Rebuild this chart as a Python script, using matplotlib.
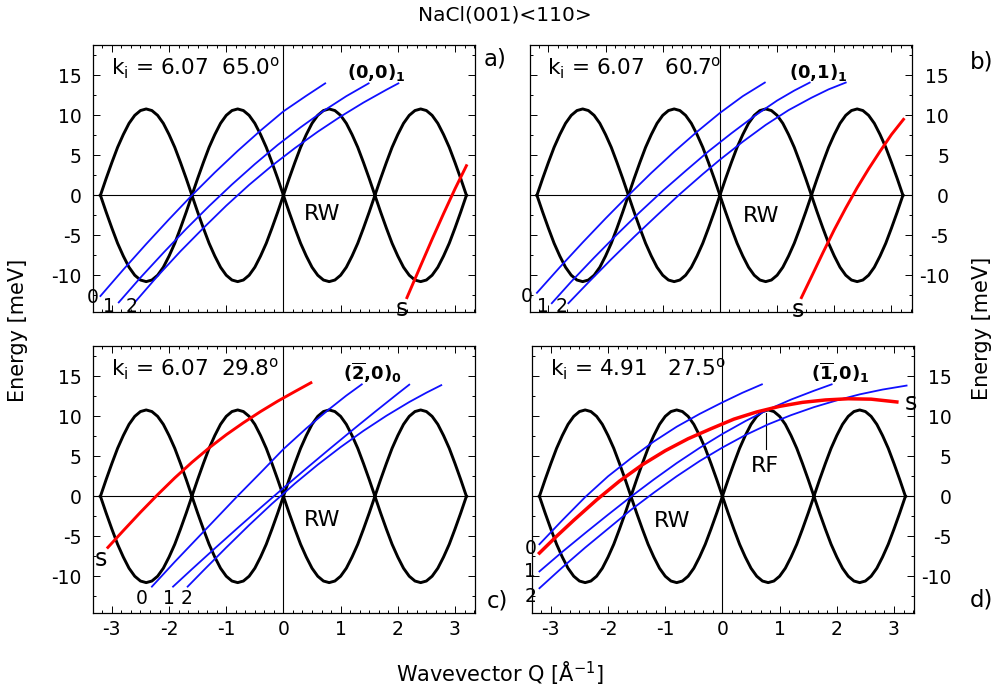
import numpy as np
import matplotlib
matplotlib.use("Agg")
import matplotlib.pyplot as plt
from matplotlib.ticker import MultipleLocator

plt.rcParams["font.family"] = ["DejaVu Sans"]
plt.rcParams["axes.unicode_minus"] = False
plt.rcParams["mathtext.default"] = "regular"

# Rayleigh wave branch: one arch, repeated over 4 zones
rw_q = [0.0, 0.1, 0.2, 0.3, 0.4, 0.5, 0.6, 0.7, 0.8, 0.9, 1.0, 1.1, 1.2, 1.3, 1.4, 1.5, 1.6]
rw_e = [0.0, 2.1, 4.1, 6.0, 7.6, 9.0, 10.0, 10.6, 10.8, 10.6, 10.0, 9.0, 7.6, 6.0, 4.1, 2.1, 0.0]
rw_starts = [-3.2, -1.6, 0.0, 1.6]

# panel a) (0,0)1
a_s0_q = [-3.2, -2.8, -2.4, -2.0, -1.6, -1.2, -0.8, -0.4, 0.0, 0.4, 0.73]
a_s0_e = [-12.6, -9.3, -6.1, -3.0, 0.0, 2.85, 5.55, 8.1, 10.5, 12.45, 14.0]
a_s1_q = [-2.88, -2.5, -2.1, -1.7, -1.3, -0.9, -0.5, -0.1, 0.3, 0.7, 1.1, 1.49]
a_s1_e = [-13.4, -10.3, -7.2, -4.2, -1.35, 1.35, 3.9, 6.3, 8.5, 10.55, 12.4, 14.0]
a_s2_q = [-2.6, -2.2, -1.8, -1.4, -1.0, -0.6, -0.2, 0.2, 0.6, 1.0, 1.4, 1.8, 2.01]
a_s2_e = [-13.4, -10.1, -7.0, -4.1, -1.3, 1.3, 3.7, 5.9, 7.95, 9.85, 11.6, 13.2, 14.0]
a_red_q = [2.16, 2.4, 2.6, 2.8, 3.0, 3.2]
a_red_e = [-12.8, -8.8, -5.5, -2.3, 0.8, 3.7]

# panel b) (0,1)1
b_s0_q = [-3.2, -2.8, -2.4, -2.0, -1.6, -1.2, -0.8, -0.4, 0.0, 0.4, 0.785]
b_s0_e = [-12.2, -9.0, -5.9, -2.9, 0.0, 2.8, 5.45, 7.95, 10.3, 12.4, 14.1]
b_s1_q = [-2.94, -2.6, -2.2, -1.8, -1.4, -1.0, -0.6, -0.2, 0.2, 0.6, 1.0, 1.3, 1.57]
b_s1_e = [-13.5, -10.8, -7.8, -4.9, -2.1, 0.55, 3.05, 5.5, 7.75, 9.9, 11.85, 13.1, 14.1]
b_s2_q = [-2.65, -2.3, -1.9, -1.5, -1.1, -0.7, -0.3, 0.0, 0.4, 0.8, 1.2, 1.6, 1.9, 2.2]
b_s2_e = [-13.5, -10.9, -8.0, -5.2, -2.5, 0.15, 2.65, 4.45, 6.7, 8.8, 10.65, 12.2, 13.25, 14.1]
b_red_q = [1.425, 1.6, 1.8, 2.0, 2.2, 2.4, 2.6, 2.8, 3.0, 3.21]
b_red_e = [-12.8, -10.2, -7.2, -4.3, -1.6, 0.95, 3.3, 5.5, 7.6, 9.5]

# panel c) (-2,0)0
c_s0_q = [-2.3, -1.9, -1.5, -1.1, -0.8, -0.4, 0.0, 0.4, 0.8, 1.1, 1.37]
c_s0_e = [-11.3, -8.2, -5.2, -2.2, 0.05, 2.95, 5.9, 8.5, 10.9, 12.6, 14.0]
c_s1_q = [-1.93, -1.6, -1.2, -0.8, -0.4, 0.0, 0.4, 0.8, 1.2, 1.6, 2.0, 2.2]
c_s1_e = [-11.3, -9.12, -6.52, -3.96, -1.44, 1.04, 3.48, 5.88, 8.24, 10.56, 12.84, 13.96]
c_s2_q = [-1.675, -1.4, -1.0, -0.6, -0.2, 0.2, 0.6, 1.0, 1.4, 1.8, 2.2, 2.5, 2.76]
c_s2_e = [-11.3, -9.29, -6.41, -3.61, -0.93, 1.59, 3.95, 6.15, 8.19, 10.07, 11.79, 12.96, 13.9]
c_red_q = [-3.07, -2.8, -2.5, -2.2, -1.9, -1.6, -1.3, -1.0, -0.7, -0.4, -0.1, 0.2, 0.48]
c_red_e = [-6.4, -4.3, -2.0, 0.2, 2.3, 4.25, 6.05, 7.7, 9.2, 10.6, 11.9, 13.1, 14.2]

# panel d) (-1,0)1
d_s0_q = [-3.2, -2.8, -2.4, -2.0, -1.6, -1.2, -0.8, -0.4, 0.0, 0.35, 0.69]
d_s0_e = [-6.0, -3.0, -0.1, 2.5, 4.75, 6.85, 8.7, 10.3, 11.75, 12.95, 14.0]
d_s1_q = [-3.2, -2.8, -2.4, -2.0, -1.6, -1.2, -0.8, -0.4, 0.0, 0.4, 0.8, 1.2, 1.6, 1.91]
d_s1_e = [-9.4, -6.95, -4.6, -2.3, -0.05, 2.1, 4.15, 6.05, 7.8, 9.4, 10.85, 12.1, 13.2, 14.0]
d_s2_q = [-3.2, -2.8, -2.4, -2.0, -1.6, -1.2, -0.8, -0.4, 0.0, 0.4, 0.8, 1.2, 1.6, 2.0, 2.4, 2.8, 3.22]
d_s2_e = [-11.5, -8.9, -6.42, -4.06, -1.7, 0.45, 2.5, 4.4, 6.1, 7.65, 9.0, 10.15, 11.15, 12.0, 12.75, 13.35, 13.85]
d_red_q = [-3.2, -2.9, -2.6, -2.2, -1.8, -1.4, -1.0, -0.6, -0.2, 0.2, 0.6, 1.0, 1.4, 1.8, 2.2, 2.6, 3.05]
d_red_e = [-7.1, -5.0, -3.0, -0.45, 1.9, 3.95, 5.7, 7.2, 8.45, 9.65, 10.55, 11.25, 11.75, 12.05, 12.2, 12.15, 11.8]

ki_labels = [r"k$_i$ = 6.07  65.0$^o$", r"k$_i$ = 6.07   60.7$^o$",
             r"k$_i$ = 6.07  29.8$^o$", r"k$_i$ = 4.91   27.5$^o$"]
peak_labels = [r"$\mathbf{(0{,}0)_1}$", r"$\mathbf{(0{,}1)_1}$",
               r"$\mathbf{(\overline{2}{,}0)_0}$", r"$\mathbf{(\overline{1}{,}0)_1}$"]
panel_letters = ["a)", "b)", "c)", "d)"]

W, H = 996, 691
fig = plt.figure(figsize=(W / 100, H / 100), dpi=100)

def box(l, t, r, b):
    return [l / W, 1 - b / H, (r - l) / W, (b - t) / H]

ax_a = fig.add_axes(box(93, 45, 475, 312))
ax_b = fig.add_axes(box(529.5, 45, 911.5, 312))
ax_c = fig.add_axes(box(93, 346, 475, 613))
ax_d = fig.add_axes(box(532, 346, 914, 613))
axes = [ax_a, ax_b, ax_c, ax_d]

scans = [
    [(a_s0_q, a_s0_e), (a_s1_q, a_s1_e), (a_s2_q, a_s2_e)],
    [(b_s0_q, b_s0_e), (b_s1_q, b_s1_e), (b_s2_q, b_s2_e)],
    [(c_s0_q, c_s0_e), (c_s1_q, c_s1_e), (c_s2_q, c_s2_e)],
    [(d_s0_q, d_s0_e), (d_s1_q, d_s1_e), (d_s2_q, d_s2_e)],
]
reds = [(a_red_q, a_red_e), (b_red_q, b_red_e), (c_red_q, c_red_e), (d_red_q, d_red_e)]

for i, ax in enumerate(axes):
    ax.set_xlim(-3.33, 3.35)
    ax.set_ylim(-14.6, 18.8)
    ax.axhline(0, color="black", lw=0.8, zorder=1)
    ax.axvline(0, color="black", lw=0.8, zorder=1)
    for s in rw_starts:
        q = np.array(rw_q) + s
        ax.plot(q, rw_e, color="black", lw=2.1, zorder=2)
        ax.plot(q, -np.array(rw_e), color="black", lw=2.1, zorder=2)
    for q, e in scans[i]:
        ax.plot(q, e, color="#1010ff", lw=1.3, zorder=3)
    ax.plot(reds[i][0], reds[i][1], color="#ff0000", lw=2.1 if i < 3 else 2.5, zorder=4)

    ax.xaxis.set_major_locator(MultipleLocator(1))
    ax.xaxis.set_minor_locator(MultipleLocator(1 / 6))
    ax.yaxis.set_major_locator(MultipleLocator(5))
    ax.yaxis.set_minor_locator(MultipleLocator(2.5))
    ax.tick_params(which="both", direction="in", top=True, right=True, width=0.7, labelsize=13.5)
    ax.tick_params(which="major", length=5)
    ax.tick_params(which="minor", length=2.5)
    for sp in ax.spines.values():
        sp.set_linewidth(0.9)

    ax.text(-3.02, 15.9, ki_labels[i], fontsize=15.5, va="center", ha="left")
    ax.text([1.11, 1.2, 1.04, 1.55][i], 15.4, peak_labels[i], fontsize=13, va="center", ha="left")

# tick labels: left for a, c; right for b, d; x only on the bottom row
ax_a.tick_params(labelbottom=False, pad=8)
ax_b.tick_params(labelbottom=False, labelleft=False, labelright=True, pad=27)
ax_c.tick_params(axis="y", pad=8)
ax_c.tick_params(axis="x", pad=5)
ax_d.tick_params(axis="y", labelleft=False, labelright=True, pad=27)
ax_d.tick_params(axis="x", pad=5)
for ax in (ax_b, ax_d):
    for lab in ax.get_yticklabels():
        lab.set_horizontalalignment("right")

# RW labels
ax_a.text(0.36, -2.3, "RW", fontsize=16, va="center")
ax_b.text(0.4, -2.6, "RW", fontsize=16, va="center")
ax_c.text(0.35, -3.0, "RW", fontsize=16, va="center")
ax_d.text(-1.2, -3.1, "RW", fontsize=16, va="center")
ax_d.plot([0.77, 0.77], [10.4, 5.9], color="black", lw=0.8)
ax_d.text(0.75, 3.75, "RF", fontsize=16, va="center", ha="center")

# scan and specular labels
kw = dict(fontsize=13.5, ha="center", va="center", clip_on=False)
skw = dict(fontsize=17, ha="center", va="center", clip_on=False)
ax_a.text(-3.34, -12.8, "0", **kw)
ax_a.text(-3.05, -13.9, "1", **kw)
ax_a.text(-2.65, -13.9, "2", **kw)
ax_a.text(2.07, -14.2, "s", **skw)
ax_b.text(-3.38, -12.7, "0", **kw)
ax_b.text(-3.09, -13.9, "1", **kw)
ax_b.text(-2.77, -13.9, "2", **kw)
ax_b.text(1.36, -14.3, "s", **skw)
ax_c.text(-3.2, -7.8, "s", **skw)
ax_c.text(-2.47, -12.8, "0", **kw)
ax_c.text(-2.0, -12.8, "1", **kw)
ax_c.text(-1.69, -12.8, "2", **kw)
ax_d.text(-3.36, -6.5, "0", **kw)
ax_d.text(-3.36, -9.4, "1", **kw)
ax_d.text(-3.36, -12.5, "2", **kw)
ax_d.text(3.3, 11.7, "s", **skw)

# panel letters
fig.text(495 / W, 1 - 59 / H, panel_letters[0], fontsize=16.5, ha="center", va="center")
fig.text(982 / W, 1 - 62 / H, panel_letters[1], fontsize=16.5, ha="center", va="center")
fig.text(497 / W, 1 - 601 / H, panel_letters[2], fontsize=16.5, ha="center", va="center")
fig.text(981 / W, 1 - 600 / H, panel_letters[3], fontsize=16.5, ha="center", va="center")

fig.text(505 / W, 1 - 15 / H, "NaCl(001)<110>", fontsize=14.5, ha="center", va="center")
fig.text(500 / W, 1 - 673 / H, r"Wavevector Q [Å$^{-1}$]", fontsize=15, ha="center", va="center")
fig.text(18 / W, 1 - 330 / H, "Energy [meV]", fontsize=15, rotation=90, ha="center", va="center")
fig.text(982 / W, 1 - 328 / H, "Energy [meV]", fontsize=15, rotation=90, ha="center", va="center")

fig.savefig("out.png", dpi=100)
